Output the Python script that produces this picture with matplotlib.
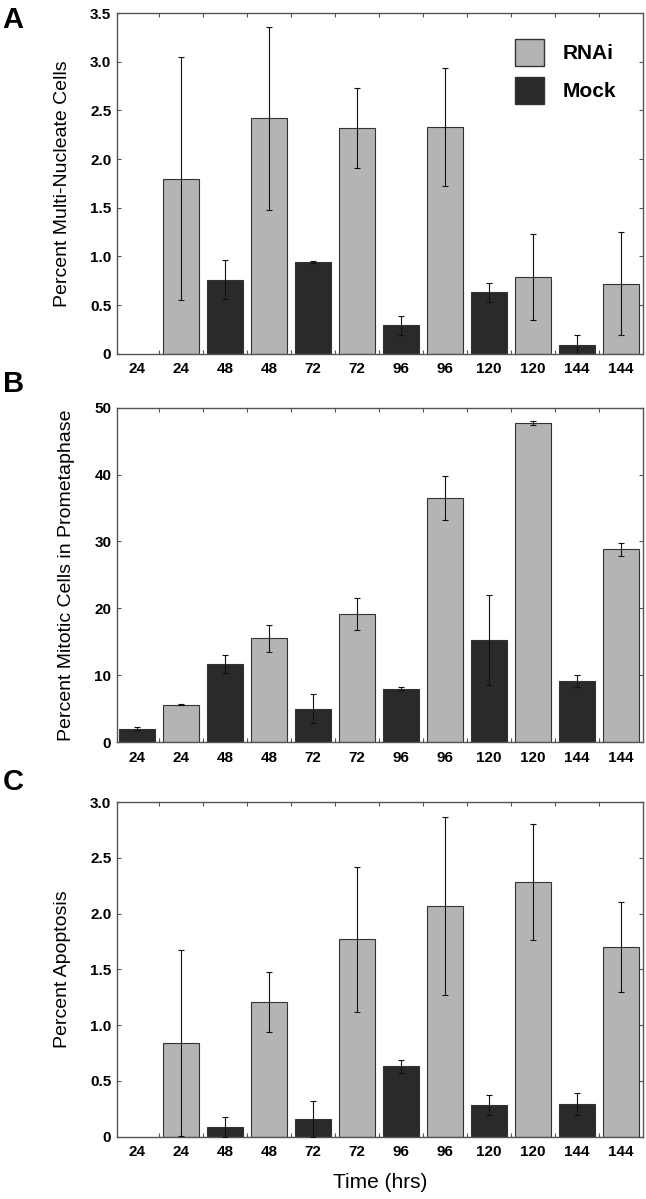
import numpy as np
import matplotlib.pyplot as plt
from matplotlib.patches import Patch

plt.rcParams['font.family'] = ['Liberation Sans', 'DejaVu Sans']

# etiquetas del eje x (mock, RNAi alternados)
etiquetas = ['24', '24', '48', '48', '72', '72', '96', '96', '120', '120', '144', '144']
tipo = ['mock', 'rnai'] * 6

# Panel A: celulas multinucleadas
a_valores = [0.0, 1.80, 0.76, 2.42, 0.94, 2.32, 0.29, 2.33, 0.63, 0.79, 0.09, 0.72]
a_error = [0.0, 1.25, 0.20, 0.94, 0.01, 0.41, 0.10, 0.61, 0.10, 0.44, 0.10, 0.53]

# Panel B: celulas mitoticas en prometafase
b_valores = [2.0, 5.6, 11.7, 15.5, 5.0, 19.2, 8.0, 36.5, 15.3, 47.7, 9.1, 28.8]
b_error = [0.2, 0.1, 1.3, 2.0, 2.2, 2.4, 0.2, 3.3, 6.7, 0.3, 0.9, 1.0]

# Panel C: apoptosis
c_valores = [0.0, 0.84, 0.09, 1.21, 0.16, 1.77, 0.63, 2.07, 0.28, 2.28, 0.29, 1.70]
c_error = [0.0, 0.83, 0.09, 0.27, 0.16, 0.65, 0.06, 0.80, 0.09, 0.52, 0.10, 0.40]

COLOR_RNAI = '#b4b4b4'
COLOR_MOCK = '#2a2a2a'


def dibujar_panel(ax, valores, errores, ymax, yticks, ylabels, ylabel):
    x = np.arange(len(valores))
    colores = [COLOR_RNAI if t == 'rnai' else COLOR_MOCK for t in tipo]
    for xi, v, e, c in zip(x, valores, errores, colores):
        if v <= 0:
            continue
        ax.bar(xi, v, width=0.82, color=c, edgecolor='#333333', linewidth=0.8, zorder=2)
        ax.errorbar(xi, v, yerr=e, fmt='none', ecolor='#111111', elinewidth=0.8,
                    capsize=2.2, capthick=0.8, zorder=3)
    ax.set_xlim(-0.46, 11.49)
    ax.set_ylim(0, ymax)
    ax.set_xticks(x)
    ax.set_xticklabels(etiquetas, fontsize=11, fontweight='bold')
    ax.set_xticks(x[:-1] + 0.5, minor=True)
    ax.tick_params(axis='x', which='major', length=0, pad=6)
    ax.tick_params(axis='x', which='minor', direction='in', length=3, top=True,
                   bottom=True, width=0.8, color='#555555')
    ax.set_yticks(yticks)
    ax.set_yticklabels(ylabels, fontsize=11, fontweight='bold')
    ax.tick_params(axis='y', direction='in', length=3, right=True, width=0.8,
                   color='#555555', pad=4)
    ax.set_ylabel(ylabel, fontsize=14, labelpad=14)
    for s in ax.spines.values():
        s.set_color('#555555')
        s.set_linewidth(1.0)


fig = plt.figure(figsize=(6.46, 11.99), dpi=100)
izq, ancho = 0.181, 0.814
ax_a = fig.add_axes([izq, 0.705, ancho, 0.284])
ax_b = fig.add_axes([izq, 0.381, ancho, 0.279])
ax_c = fig.add_axes([izq, 0.052, ancho, 0.279])

dibujar_panel(ax_a, a_valores, a_error, 3.5, np.arange(0, 3.51, 0.5),
              ['0', '0.5', '1.0', '1.5', '2.0', '2.5', '3.0', '3.5'],
              'Percent Multi-Nucleate Cells')
dibujar_panel(ax_b, b_valores, b_error, 50, np.arange(0, 51, 10),
              ['0', '10', '20', '30', '40', '50'],
              'Percent Mitotic Cells in Prometaphase')
dibujar_panel(ax_c, c_valores, c_error, 3.0, np.arange(0, 3.01, 0.5),
              ['0', '0.5', '1.0', '1.5', '2.0', '2.5', '3.0'],
              'Percent Apoptosis')
ax_c.set_xlabel('Time (hrs)', fontsize=15, labelpad=10)

manejadores = [Patch(facecolor=COLOR_RNAI, edgecolor='#333333', label='RNAi'),
               Patch(facecolor=COLOR_MOCK, edgecolor='#333333', label='Mock')]
ax_a.legend(handles=manejadores, loc='upper right', bbox_to_anchor=(0.985, 0.98),
            frameon=False, handlelength=1.4, handleheight=1.6, handletextpad=0.9,
            labelspacing=0.55, prop={'size': 15, 'weight': 'bold'})

# letras de los paneles
fig.text(0.004, 0.983, 'A', fontsize=21, fontweight='bold', va='center', ha='left')
fig.text(0.004, 0.680, 'B', fontsize=21, fontweight='bold', va='center', ha='left')
fig.text(0.004, 0.348, 'C', fontsize=21, fontweight='bold', va='center', ha='left')

plt.savefig('out.png', dpi=100)
